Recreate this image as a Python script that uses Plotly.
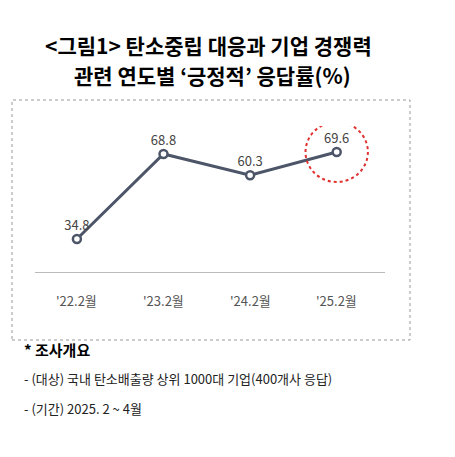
import plotly.graph_objects as go

categories = ["'22.2월", "'23.2월", "'24.2월", "'25.2월"]
values = [34.8, 68.8, 60.3, 69.6]
title_lines = ["<그림1> 탄소중립 대응과 기업 경쟁력", "관련 연도별 ‘긍정적’ 응답률(%)"]
notes = ["- (대상) 국내 탄소배출량 상위 1000대 기업(400개사 응답)", "- (기간) 2025. 2 ~ 4월"]

W, H, D = 455, 457, 8  # D: page offset correction
def px(x): return (x - D) / W
def py(y): return (H - (y - D)) / H

xs = list(range(len(categories)))
F = "Noto Sans CJK KR"
fig = go.Figure()
fig.add_trace(go.Scatter(
    x=xs, y=values, mode="lines+markers+text",
    text=[f"{v:.1f}" for v in values], textposition="top center",
    textfont=dict(size=13, color="#444", family=F),
    line=dict(color="#4d5568", width=3),
    marker=dict(size=8, color="white", line=dict(color="#4d5568", width=2.5)),
    cliponaxis=False, hoverinfo="skip"))

for i, c in enumerate(categories):
    fig.add_annotation(x=i, xref="x", y=py(300), yref="paper", text=c,
                       showarrow=False, font=dict(size=13, color="#555", family=F))
fig.add_annotation(x=px(208), xref="paper", y=py(28), yref="paper", text="<b>"+title_lines[0]+"</b>",
                   showarrow=False, font=dict(size=21, color="black", family=F))
fig.add_annotation(x=px(212), xref="paper", y=py(58), yref="paper", text="<b>"+title_lines[1]+"</b>",
                   showarrow=False, font=dict(size=21, color="black", family=F))
fig.add_annotation(x=px(22), xref="paper", xanchor="left", y=py(362), yref="paper",
                   text="<b>* 조사개요</b>", showarrow=False, font=dict(size=15, color="black", family=F))
for j, n in enumerate(notes):
    fig.add_annotation(x=px(22), xref="paper", xanchor="left", y=py(390 + j*30), yref="paper",
                       text=n, showarrow=False, font=dict(size=13, color="#222", family=F))

fig.add_shape(type="rect", xref="paper", yref="paper", x0=px(12), x1=px(410),
              y0=py(340), y1=py(100), line=dict(color="#999", width=1, dash="dot"))
fig.add_shape(type="line", xref="paper", yref="y", x0=px(35), x1=px(385), y0=21.4, y1=21.4,
              line=dict(color="#bbb", width=1))
lx, ly = xs[-1], values[-1]
fig.add_shape(type="circle", xref="x", yref="y", x0=lx-0.36, x1=lx+0.36, y0=ly-12, y1=ly+12,
              line=dict(color="#e03030", width=2, dash="dot"))

fig.update_layout(
    width=W, height=H, margin=dict(l=0, r=0, t=0, b=0),
    paper_bgcolor="white", plot_bgcolor="white", showlegend=False,
    xaxis=dict(range=[-0.5, 3.5], domain=[px(33.6), px(380)], visible=False),
    yaxis=dict(range=[20, 80], domain=[py(276), py(126)], visible=False),
)
fig.write_html("out.html")
